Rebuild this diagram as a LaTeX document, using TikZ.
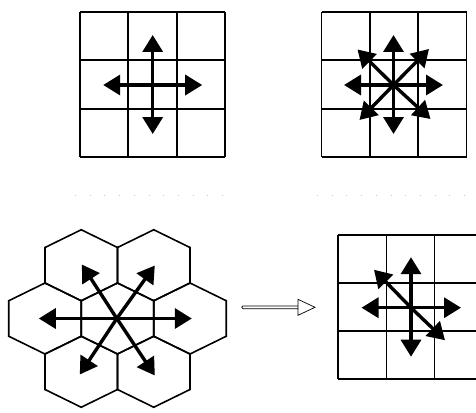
\documentclass[tikz,border=0pt]{standalone}
\usetikzlibrary{arrows.meta}

\begin{document}
\begin{tikzpicture}[x=1pt, y=-1pt,
        gridline/.style={line width=1.7pt},
        hexa/.style={line width=1.6pt, line join=miter},
        arr/.style={line width=3.4pt, -{Triangle[length=17pt, width=20pt]}},
        hollow/.style={line width=0.7pt, fill=white}]

    \useasboundingbox (0,0) rectangle (476,412);

    % --- siatki 3x3 ---
    \foreach \k in {0,1,2,3} {
        \draw[gridline] (80+48.33*\k,12) -- (80+48.33*\k,157);
        \draw[gridline] (80,12+48.33*\k) -- (225,12+48.33*\k);
        \draw[gridline] (321.5+48.33*\k,12) -- (321.5+48.33*\k,157);
        \draw[gridline] (321.5,12+48.33*\k) -- (466.5,12+48.33*\k);
        \draw[gridline] (338.3+48.1*\k,235) -- (338.3+48.1*\k,379.3);
        \draw[gridline] (338.3,235+48.1*\k) -- (482.6,235+48.1*\k);
    }

    % --- kropki separatora ---
    \draw[gray!45, line width=0.8pt, dash pattern=on 0.8pt off 13.9pt] (75,195) -- (224,195);
    \draw[gray!45, line width=0.8pt, dash pattern=on 0.8pt off 13.9pt] (317,195) -- (466,195);

    % --- plaster sześciokątów ---
    \foreach \hx/\hy in {117.5/318.5, 81.25/265.25, 153.75/265.25, 45/318.5,
                         190/318.5, 81.25/371.75, 153.75/371.75}
        \draw[hexa] (\hx,\hy) +(0,-35.5) -- +(36.25,-17.75) -- +(36.25,17.75)
            -- +(0,35.5) -- +(-36.25,17.75) -- +(-36.25,-17.75) -- cycle;

    % --- środki ---
    \coordinate (c4) at (152.7,85);
    \coordinate (c8) at (393.5,85);
    \coordinate (ch) at (116.8,318.5);
    \coordinate (c6) at (411,307.7);

    % --- sąsiedztwo 4 ---
    \draw[arr] (c4) -- +(0,-50);
    \draw[arr] (c4) -- +(0,49);
    \draw[arr] (c4) -- +(-49.5,0);
    \draw[arr] (c4) -- +(49.5,0);

    % --- sąsiedztwo 8 ---
    \draw[arr] (c8) -- +(0,-50);
    \draw[arr] (c8) -- +(0,49);
    \draw[arr] (c8) -- +(-49.5,0);
    \draw[arr] (c8) -- +(49.5,0);
    \draw[arr] (c8) -- +(-36,-35.5);
    \draw[arr] (c8) -- +(35.5,-36);
    \draw[arr] (c8) -- +(-34,35);
    \draw[arr] (c8) -- +(37,34);

    % --- sąsiedztwo heksagonalne ---
    \draw[arr] (ch) -- +(-78,0);
    \draw[arr] (ch) -- +(75,0);
    \draw[arr] (ch) -- +(-35,-54);
    \draw[arr] (ch) -- +(38,-53);
    \draw[arr] (ch) -- +(-37,56);
    \draw[arr] (ch) -- +(38,57);

    % --- sąsiedztwo 6 na siatce ---
    \draw[arr] (c6) -- +(0,-50.5);
    \draw[arr] (c6) -- +(0,49);
    \draw[arr] (c6) -- +(-49.5,0);
    \draw[arr] (c6) -- +(50,0);
    \draw[arr] (c6) -- +(-37,-38);
    \draw[arr] (c6) -- +(34,32.5);

    % --- strzałka przejścia ---
    \coordinate (ps) at (241.7,307.3);
    \coordinate (pk) at (315,307.3);
    \draw[hollow, rounded corners=1.3pt] (ps) ++(0,-1.4) rectangle ++(57.3,2.8);
    \draw[hollow] (pk) -- ++(-17,-8) -- ++(0,16) -- cycle;

\end{tikzpicture}
\end{document}
